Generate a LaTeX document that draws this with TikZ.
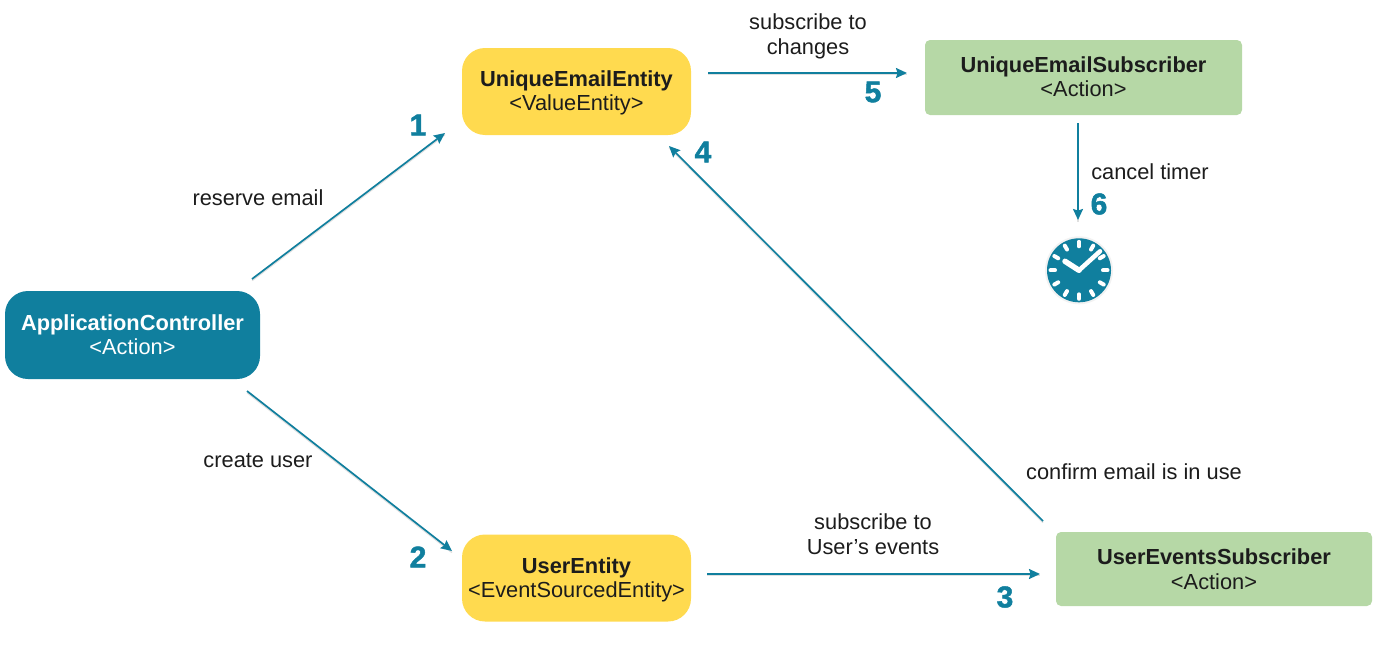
\documentclass[tikz,border=0pt]{standalone}
\usepackage{fontspec}
\setmainfont{Liberation Sans}
\newfontfamily\numfont[UprightFont={* Bold},FakeBold=1.6]{Liberation Sans}
\usetikzlibrary{arrows.meta,calc}
\definecolor{teal}{HTML}{107F9E}
\definecolor{yel}{HTML}{FFDA4F}
\definecolor{grn}{HTML}{B6D8A6}
\definecolor{ink}{HTML}{1C1C1C}
\tikzset{
  box/.style={draw=none,align=center,inner sep=0pt,font=\fontsize{21.8}{24.5}\selectfont,text=ink},
  ctrl/.style={box,fill=teal,text=white,rounded corners=23,minimum width=255,minimum height=88},
  ent/.style={box,fill=yel,rounded corners=23,minimum width=229,minimum height=87},
  sub/.style={box,fill=grn,rounded corners=5,minimum width=317,minimum height=75},
  lbl/.style={align=center,inner sep=0pt,text=ink,font=\fontsize{21.8}{25}\selectfont},
  num/.style={inner sep=0pt,text=teal,font=\fontsize{30}{32}\numfont},
  flow/.style={draw=teal,line width=1.7,-{Stealth[length=11,width=10,inset=1.5]},
    preaction={draw=black!12,line width=1.6,-,transform canvas={yshift=-1.5}}},
  tick/.style={white,line width=4,line cap=round},
  hand/.style={white,line width=5.5,line cap=round}
}
\begin{document}
\begin{tikzpicture}[x=1pt,y=-1pt]
\useasboundingbox (0,0) rectangle (1384,645);
\node[ctrl] (ac) at (132.5,335) {};
\node[box,text=white] (act) at (132.5,334.5) {\textbf{ApplicationController}\\<Action>};
\node[ent] (ue) at (576.5,91.5) {};
\node[box] (uet) at (576.5,93) {\textbf{UniqueEmailEntity}\\<ValueEntity>};
\node[ent] (us) at (576.5,578) {};
\node[box] (ust) at (576.5,580) {\textbf{UserEntity}\\<EventSourcedEntity>};
\node[sub] (ues) at (1083.5,77.5) {};
\node[box] (uest) at (1083.5,76.5) {\textbf{UniqueEmailSubscriber}\\<Action>};
\node[sub,minimum width=316,minimum height=74] (uev) at (1214,569) {};
\node[box] (uevt) at (1214,569) {\textbf{UserEventsSubscriber}\\<Action>};

\coordinate (a1s) at (252,279); \coordinate (a1e) at (445,133);
\coordinate (a2s) at (247,391); \coordinate (a2e) at (452,551);
\coordinate (a3s) at (707,574); \coordinate (a3e) at (1040,574);
\coordinate (a4s) at (1043,521); \coordinate (a4e) at (669,146);
\coordinate (a5s) at (708,73); \coordinate (a5e) at (907,73);
\coordinate (a6s) at (1078,123); \coordinate (a6e) at (1078,220);
\draw[flow] (a1s) -- (a1e);
\draw[flow] (a2s) -- (a2e);
\draw[flow] (a3s) -- (a3e);
\draw[flow] (a4s) -- (a4e);
\draw[flow] (a5s) -- (a5e);
\draw[flow] (a6s) -- (a6e);

\node[lbl] (l1) at (258,198) {reserve email};
\node[lbl] (l2) at (258,461) {create user};
\node[lbl] (l3) at (873,534) {subscribe to\\User’s events};
\node[lbl] (l4) at (1134,472) {confirm email is in use};
\node[lbl] (l5) at (808,36) {subscribe to\\changes};
\node[lbl] (l6) at (1150,172) {cancel timer};

\node[num] (n1) at (418,125) {1};
\node[num] (n2) at (418,557) {2};
\node[num] (n3) at (1005,597) {3};
\node[num] (n4) at (703,152) {4};
\node[num] (n5) at (873,92) {5};
\node[num] (n6) at (1099,204) {6};

\node[circle,fill=black!5,minimum size=68,inner sep=0pt] (clk) at (1079,270.3) {};
\fill[teal] (clk.center) circle (32);
\foreach \a in {0,30,...,330}
  \draw[tick] ($(clk.center)+(\a:24)$) -- ($(clk.center)+(\a:28.5)$);
\draw[hand] (clk.center) -- ++(-14,-9);
\draw[white,line width=4.5,line cap=round] (clk.center) -- ++(21,-19);
\end{tikzpicture}
\end{document}
